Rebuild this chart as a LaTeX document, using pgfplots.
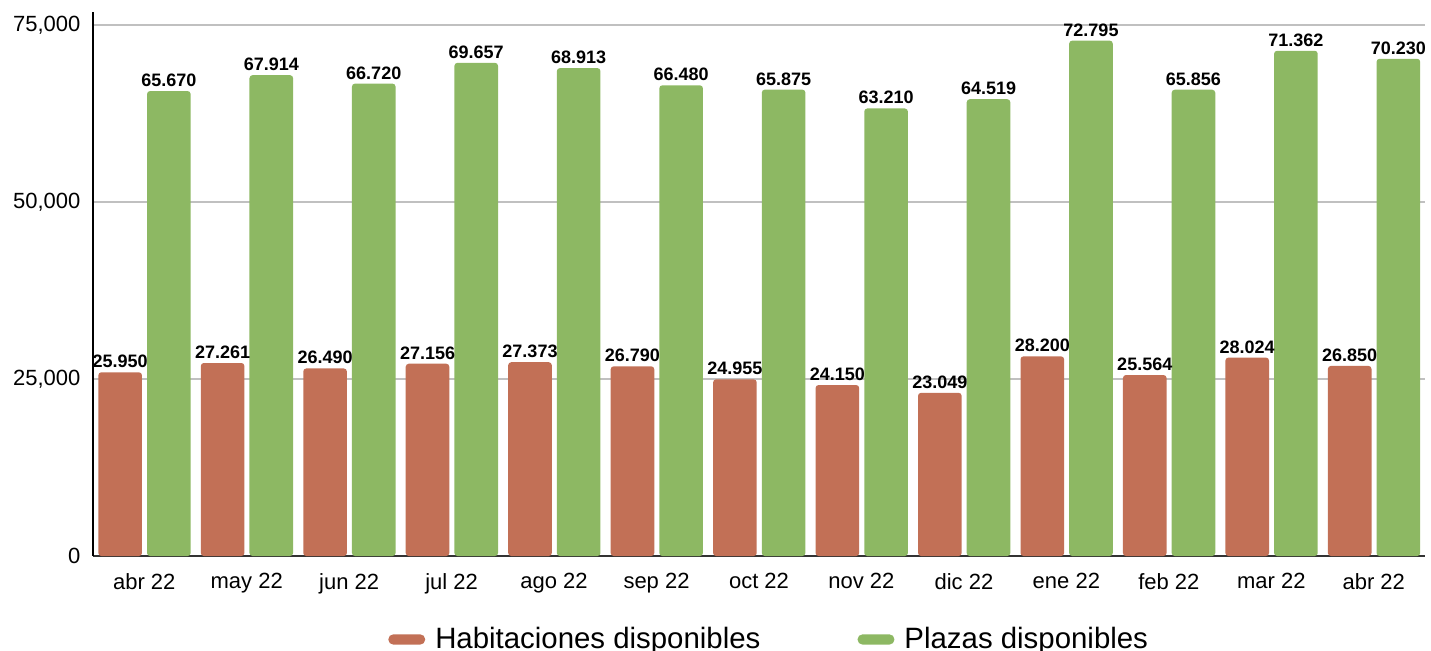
\documentclass[border=0pt]{standalone}
\usepackage{pgfplots}
\pgfplotsset{compat=1.18}
\usepackage{fontspec}
\setmainfont{Liberation Sans}
\definecolor{cRed}{HTML}{C27056}
\definecolor{cGreen}{HTML}{8DB863}
\definecolor{cGrid}{HTML}{C0C0C0}
\definecolor{cBase}{HTML}{333333}
\begin{document}
\begin{tikzpicture}
\begin{axis}[
  at={(46.5pt,-278pt)}, anchor=south west,
  scale only axis, width=666pt, height=272pt,
  ybar, bar width=21.8pt,
  xmin=-0.5, xmax=12.5, ymin=0, ymax=76836,
  xtick={0,...,12},
  xticklabels={abr 22,may 22,jun 22,jul 22,ago 22,sep 22,oct 22,nov 22,dic 22,ene 22,feb 22,mar 22,abr 22},
  ytick={0,25000,50000,75000},
  yticklabels={0,{25,000},{50,000},{75,000}},
  major tick length=0pt,
  tick label style={font=\fontsize{11}{13}\selectfont},
  xticklabel style={yshift=-5pt},
  yticklabel style={xshift=-2.8pt},
  axis x line*=bottom, axis y line*=left,
  x axis line style={draw=cBase, line width=1pt, -},
  y axis line style={draw=black, line width=1pt, -},
  ymajorgrids, grid style={draw=cGrid, line width=1pt},
  nodes near coords={\pgfmathprintnumber[fixed,precision=0,1000 sep={.},assume math mode=true]{\pgfplotspointmeta}},
  nodes near coords style={font=\bfseries\fontsize{9}{10}\selectfont, inner sep=2pt, text=black},
  legend columns=2,
  legend style={draw=none, fill=none, at={(0.5106,-0.1534)}, anchor=center,
    font=\fontsize{14.7}{17}\selectfont,
    /tikz/every even column/.append style={column sep=43.5pt},
    nodes={inner sep=0pt, inner xsep=5pt}},
  legend image code/.code={\fill[#1, rounded corners=2.6pt] (0pt,-2.6pt) rectangle (18.5pt,2.6pt);},
]
\addplot[fill=cRed, draw=none, bar shift=-12.04pt, rounded corners=1.5pt] coordinates {
(0,25950) (1,27261) (2,26490) (3,27156) (4,27373) (5,26790) (6,24955) (7,24150) (8,23049) (9,28200) (10,25564) (11,28024) (12,26850)};
\addplot[fill=cGreen, draw=none, bar shift=12.3pt, rounded corners=1.5pt] coordinates {
(0,65670) (1,67914) (2,66720) (3,69657) (4,68913) (5,66480) (6,65875) (7,63210) (8,64519) (9,72795) (10,65856) (11,71362) (12,70230)};
\legend{Habitaciones disponibles, Plazas disponibles}
\end{axis}
\node[anchor=base east, font=\bfseries\fontsize{14}{16}\selectfont, inner sep=0pt] at (289pt,2.6pt) {Habitaciones};
\node[anchor=base west, font=\bfseries\fontsize{14}{16}\selectfont, inner sep=0pt] at (290.5pt,2.6pt) {y plazas};
\pgfresetboundingbox
\useasboundingbox (0,0) rectangle (715.5pt,-325pt);
\end{tikzpicture}
\end{document}
